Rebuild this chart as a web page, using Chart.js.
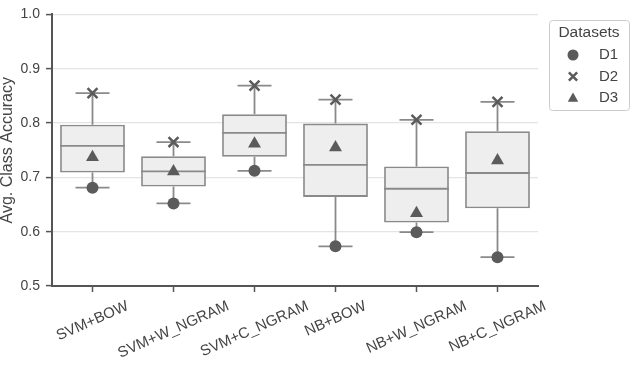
<!DOCTYPE html>
<html>
<head>
<meta charset="utf-8">
<script src="https://cdn.jsdelivr.net/npm/chart.js@4.4.1/dist/chart.umd.min.js"></script>
<style>
  html, body { margin: 0; padding: 0; background: #fff; }
</style>
</head>
<body>
<canvas id="chart" width="634" height="365"></canvas>
<script>
// box plot summary per model
const categories = ['SVM+BOW', 'SVM+W_NGRAM', 'SVM+C_NGRAM', 'NB+BOW', 'NB+W_NGRAM', 'NB+C_NGRAM'];
const whiskerLow  = [0.681, 0.652, 0.712, 0.573, 0.599, 0.553];
const q1          = [0.709, 0.683, 0.738, 0.664, 0.617, 0.643];
const median      = [0.758, 0.711, 0.782, 0.723, 0.679, 0.708];
const q3          = [0.797, 0.739, 0.816, 0.799, 0.720, 0.785];
const whiskerHigh = [0.855, 0.765, 0.869, 0.843, 0.806, 0.839];

// per-dataset accuracies
const seriesNames = ['D1', 'D2', 'D3'];
const d1 = [0.681, 0.652, 0.712, 0.573, 0.599, 0.553];
const d2 = [0.855, 0.765, 0.869, 0.843, 0.806, 0.839];
const d3 = [0.737, 0.711, 0.762, 0.755, 0.634, 0.731];
const yTicks = [0.5, 0.6, 0.7, 0.8, 0.9, 1.0];

const FONT = "'Liberation Sans', Arial, sans-serif";
const lineGray = '#8a8a8a';
const markGray = '#5b5b5b';
const axisGray = '#555555';
const textGray = '#444444';

// whiskers, caps and medians drawn right after the boxes
const boxExtras = {
    id: 'boxExtras',
    afterDatasetDraw(chart, args) {
        if (args.index !== 0) return;
        const ctx = chart.ctx;
        const y = chart.scales.y;
        const bars = args.meta.data;
        ctx.save();
        ctx.strokeStyle = lineGray;
        ctx.lineWidth = 1.8;
        bars.forEach((bar, i) => {
            const x = bar.x;
            const half = bar.width / 2;
            const cap = 17;
            const yLo = y.getPixelForValue(whiskerLow[i]);
            const yHi = y.getPixelForValue(whiskerHigh[i]);
            const yQ1 = y.getPixelForValue(q1[i]);
            const yQ3 = y.getPixelForValue(q3[i]);
            const yMed = y.getPixelForValue(median[i]);
            ctx.beginPath();
            ctx.moveTo(x, yHi); ctx.lineTo(x, yQ3);
            ctx.moveTo(x, yQ1); ctx.lineTo(x, yLo);
            ctx.moveTo(x - cap, yHi); ctx.lineTo(x + cap, yHi);
            ctx.moveTo(x - cap, yLo); ctx.lineTo(x + cap, yLo);
            ctx.moveTo(x - half, yMed); ctx.lineTo(x + half, yMed);
            ctx.stroke();
        });
        ctx.restore();
    }
};

// rotated category labels, centred under each tick
const xLabels = {
    id: 'xLabels',
    afterDraw(chart) {
        const ctx = chart.ctx;
        const xs = chart.scales.x;
        const top = chart.chartArea.bottom + 14;
        const angle = 24 * Math.PI / 180;
        const size = 15;
        ctx.save();
        ctx.font = size + 'px ' + FONT;
        ctx.fillStyle = textGray;
        ctx.textAlign = 'center';
        ctx.textBaseline = 'middle';
        categories.forEach((label, i) => {
            const x = xs.getPixelForValue(i);
            const w = ctx.measureText(label).width;
            const h = w * Math.sin(angle) + size * 0.8 * Math.cos(angle);
            ctx.save();
            ctx.translate(x, top + h / 2);
            ctx.rotate(-angle);
            ctx.fillText(label, 0, 0);
            ctx.restore();
        });
        ctx.restore();
    }
};

function drawMarker(ctx, style, x, y, r) {
    ctx.beginPath();
    if (style === 'circle') {
        ctx.arc(x, y, r, 0, Math.PI * 2);
        ctx.fill();
    } else if (style === 'crossRot') {
        const d = r * 0.75;
        ctx.moveTo(x - d, y - d); ctx.lineTo(x + d, y + d);
        ctx.moveTo(x + d, y - d); ctx.lineTo(x - d, y + d);
        ctx.stroke();
    } else {
        ctx.moveTo(x, y - r);
        ctx.lineTo(x + r * 0.95, y + r * 0.7);
        ctx.lineTo(x - r * 0.95, y + r * 0.7);
        ctx.closePath();
        ctx.fill();
    }
}

// boxed legend at the top right
const legendBox = {
    id: 'legendBox',
    afterDraw(chart) {
        const ctx = chart.ctx;
        const styles = ['circle', 'crossRot', 'triangle'];
        ctx.save();
        ctx.strokeStyle = '#cccccc';
        ctx.lineWidth = 1;
        ctx.beginPath();
        ctx.roundRect(549.5, 20.5, 80, 90, 3);
        ctx.stroke();
        ctx.font = '15.5px ' + FONT;
        ctx.fillStyle = textGray;
        ctx.textAlign = 'center';
        ctx.textBaseline = 'middle';
        ctx.fillText('Datasets', 589, 33);
        ctx.font = '15px ' + FONT;
        ctx.textAlign = 'left';
        seriesNames.forEach((name, i) => {
            const yy = 55 + i * 21.5;
            ctx.fillStyle = markGray;
            ctx.strokeStyle = markGray;
            ctx.lineWidth = 2.5;
            drawMarker(ctx, styles[i], 573, yy, 5.5);
            ctx.fillStyle = textGray;
            ctx.fillText(name, 599, yy);
        });
        ctx.restore();
    }
};

const pointSet = (label, data, style, radius, bw) => ({
    type: 'line',
    label: label,
    data: data,
    showLine: false,
    pointStyle: style,
    pointRadius: radius,
    pointBorderWidth: bw,
    pointBackgroundColor: markGray,
    pointBorderColor: markGray,
    order: 0
});

new Chart(document.getElementById('chart'), {
    type: 'bar',
    data: {
        labels: categories,
        datasets: [
            {
                label: 'box',
                data: q1.map((v, i) => [v, q3[i]]),
                backgroundColor: '#eeeeee',
                borderColor: lineGray,
                borderWidth: 1.8,
                borderSkipped: false,
                categoryPercentage: 1,
                barPercentage: 0.8,
                order: 10
            },
            pointSet(seriesNames[0], d1, 'circle', 6, 0),
            pointSet(seriesNames[1], d2, 'crossRot', 7, 2.5),
            pointSet(seriesNames[2], d3, 'triangle', 7.5, 0)
        ]
    },
    options: {
        responsive: false,
        animation: false,
        layout: { padding: { top: 13, right: 96, bottom: 73, left: 0 } },
        plugins: {
            legend: { display: false },
            tooltip: { enabled: false }
        },
        scales: {
            x: {
                ticks: { display: false },
                grid: { offset: false, drawOnChartArea: false, tickLength: 6, tickColor: axisGray, tickWidth: 1.5 },
                border: { color: axisGray, width: 2 }
            },
            y: {
                min: yTicks[0],
                max: yTicks[yTicks.length - 1],
                afterFit(scale) { scale.width = 52; },
                afterBuildTicks(scale) { scale.ticks = yTicks.map(v => ({ value: v })); },
                ticks: {
                    callback: v => v.toFixed(1),
                    color: textGray,
                    font: { family: FONT, size: 14 },
                    padding: 6
                },
                grid: { color: '#e4e4e4', lineWidth: 1.2, tickLength: 6, tickColor: axisGray, tickWidth: 1.5 },
                border: { color: axisGray, width: 2 },
                title: {
                    display: true,
                    text: 'Avg. Class Accuracy',
                    color: textGray,
                    font: { family: FONT, size: 16, lineHeight: 1 },
                    padding: { top: 0, bottom: 0 }
                }
            }
        }
    },
    plugins: [boxExtras, xLabels, legendBox]
});
</script>
</body>
</html>
